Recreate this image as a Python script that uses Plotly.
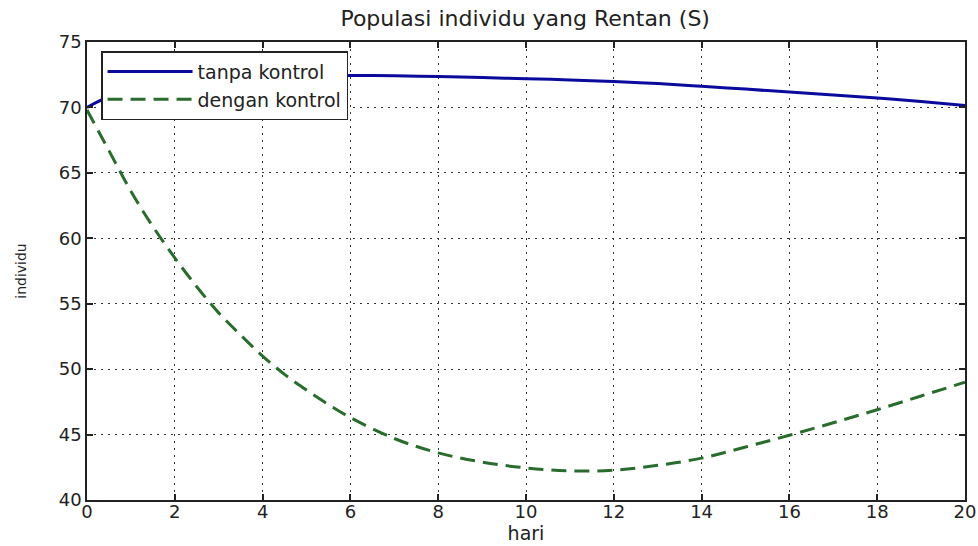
import plotly.graph_objects as go

# data
hari_tanpa = [0, 0.25, 0.5, 1, 1.5, 2, 3, 4, 5, 6, 7, 8, 9, 10, 11, 12, 13, 14, 15, 16, 17, 18, 19, 20]
s_tanpa = [70.0, 70.45, 70.8, 71.3, 71.65, 71.9, 72.2, 72.35, 72.42, 72.44, 72.42, 72.36, 72.28, 72.2,
           72.1, 71.98, 71.82, 71.62, 71.4, 71.17, 70.95, 70.72, 70.45, 70.15]

hari_dengan = [0, 0.5, 1, 1.5, 2, 2.5, 3, 3.5, 4, 4.5, 5, 5.5, 6, 7, 8, 9, 10, 11, 12, 13, 14, 15, 16, 17, 18, 19, 20]
s_dengan = [69.8, 66.7, 63.6, 60.9, 58.5, 56.3, 54.3, 52.6, 51.0, 49.6, 48.4, 47.3, 46.3, 44.7, 43.6, 42.9,
            42.45, 42.22, 42.28, 42.65, 43.2, 44.05, 44.95, 45.9, 46.9, 47.95, 49.0]

x_ticks = list(range(0, 21, 2))
y_ticks = list(range(40, 76, 5))

FONT = "DejaVu Sans, Liberation Sans, Arial, sans-serif"
INK = "#222222"

fig = go.Figure()
fig.add_trace(go.Scatter(x=hari_tanpa, y=s_tanpa, mode="lines", name="tanpa kontrol",
                         line=dict(color="#0A0A9C", width=3, shape="spline")))
fig.add_trace(go.Scatter(x=hari_dengan, y=s_dengan, mode="lines", name="dengan kontrol",
                         line=dict(color="#2A6B2E", width=3, dash="15px,8px", shape="spline")))

axis_common = dict(
    showline=True, linecolor=INK, linewidth=1.5, mirror="ticks",
    ticks="inside", ticklen=6, tickcolor=INK, tickwidth=1.5,
    showgrid=True, gridcolor="#333333", griddash="2px,5px", gridwidth=1,
    zeroline=False, automargin=False,
    tickfont=dict(family=FONT, size=18, color=INK),
)

fig.update_xaxes(range=[0, 20], tickvals=x_ticks, ticklabelstandoff=-5,
                 title=dict(text="hari", font=dict(family=FONT, size=19, color=INK), standoff=2),
                 **axis_common)
fig.update_yaxes(range=[40, 75], tickvals=y_ticks,
                 title=dict(text="individu", font=dict(family=FONT, size=14, color=INK), standoff=29),
                 **axis_common)

fig.update_layout(
    width=978, height=546,
    paper_bgcolor="white", plot_bgcolor="white",
    margin=dict(l=87, r=13, t=42, b=46),
    title=dict(text="Populasi individu yang Rentan (S)", x=0.537, xanchor="center",
               y=0.967, yanchor="middle", font=dict(family=FONT, size=22, color=INK)),
    legend=dict(x=0.016, y=0.98, xanchor="left", yanchor="top",
                bgcolor="white", bordercolor=INK, borderwidth=1.5,
                font=dict(family=FONT, size=19, color=INK),
                itemwidth=85, tracegroupgap=0),
    showlegend=True,
)

# drop the default page margin so the figure sits at the window's corner
fig.write_html("out.html", config={"displayModeBar": False},
               post_script="document.body.style.margin='0';document.body.style.overflow='hidden';")
